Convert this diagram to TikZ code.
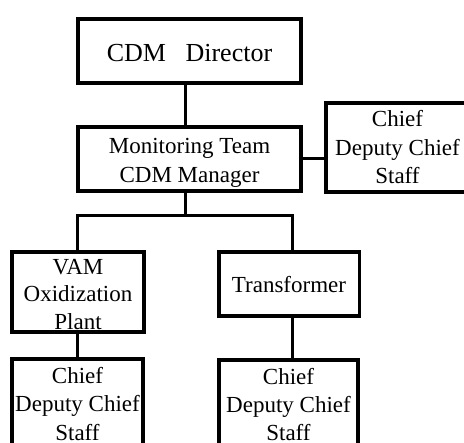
\documentclass[tikz,border=0pt]{standalone}
\usepackage{fontspec}
\setmainfont{Liberation Serif}
\newcommand\stacklines[1]{\begin{tabular}[t]{@{}c@{}}#1\end{tabular}}
\begin{document}
\begin{tikzpicture}[x=1pt,y=-1pt,
  box/.style={draw, line width=3.6pt, inner sep=0pt, line join=miter, anchor=north},
  conn/.style={line width=3pt},
  fbig/.style={font=\fontsize{26}{30}\selectfont},
  fnorm/.style={font=\fontsize{23}{28.5}\selectfont}]
\useasboundingbox (0,0) rectangle (464,443);
\fill[white] (0,0) rectangle (464,443);
\clip (0,0) rectangle (464,443);

\node[box, fbig, minimum width=223pt, text height=43pt, text depth=21.5pt] (dir) at (189.5,17) {CDM\ \ \ Director};
\node[box, font=\fontsize{23}{29}\selectfont, minimum width=223pt, text height=26.7pt, text depth=37.3pt] (mon) at (189.5,125) {\stacklines{Monitoring Team\\CDM Manager}};
\node[box, font=\fontsize{23}{28.6}\selectfont, minimum width=143pt, text height=24pt, text depth=65pt] (chiefR) at (397.5,101) {\stacklines{Chief\\Deputy Chief\\Staff}};
\node[box, font=\fontsize{23}{27.6}\selectfont, minimum width=132pt, text height=22.3pt, text depth=57.7pt] (vam) at (78,250) {\stacklines{VAM\\Oxidization\\Plant}};
\node[box, fnorm, minimum width=140.6pt, text height=40.4pt, text depth=23.3pt] (tr) at (289,250.3) {Transformer};
\node[box, font=\fontsize{23}{28.3}\selectfont, minimum width=131pt, text height=24.7pt, text depth=88pt] (chiefL) at (77.5,357) {\stacklines{Chief\\Deputy Chief\\Staff}};
\node[box, font=\fontsize{23}{28.3}\selectfont, minimum width=139pt, text height=24.5pt, text depth=88pt] (chiefM) at (288.5,358) {\stacklines{Chief\\Deputy Chief\\Staff}};

\coordinate (trunk) at (185,216);
\coordinate (busL) at (77,216);
\coordinate (busR) at (292,216);

\draw[conn] (dir.south -| trunk) -- (mon.north -| trunk);
\draw[conn] (mon.east) -- (mon.east -| chiefR.west);
\draw[conn] (mon.south -| trunk) -- (trunk);
\draw[conn] (vam.north -| busL) -- (busL) -- (busR) -- (tr.north -| busR);
\draw[conn] (vam.south -| busL) -- (chiefL.north -| busL);
\draw[conn] (tr.south -| busR) -- (chiefM.north -| busR);
\end{tikzpicture}
\end{document}
